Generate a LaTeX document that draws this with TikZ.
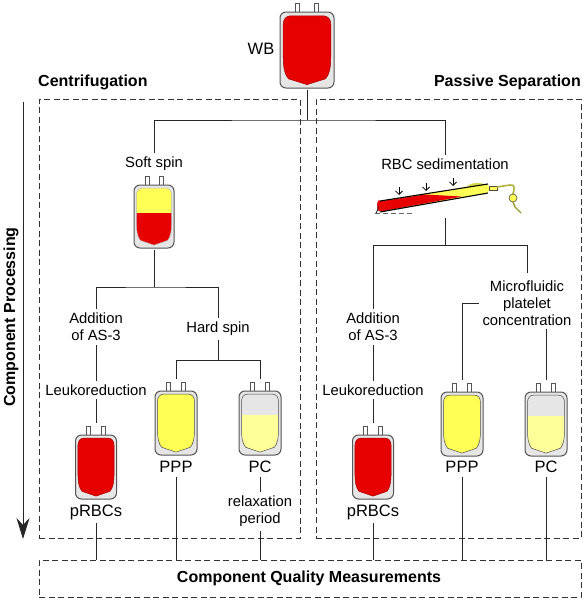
\documentclass[tikz,border=0pt]{standalone}
\usepackage{fontspec}
\setmainfont{Liberation Sans}
\usetikzlibrary{arrows.meta}
\definecolor{bagred}{HTML}{E60000}
\definecolor{bagyel}{HTML}{FFFF55}
\definecolor{bagpale}{HTML}{FFFF99}
\definecolor{baggray}{HTML}{E6E6E6}
\definecolor{bagline}{HTML}{555555}
\tikzset{
  lbl/.style={font=\fontsize{14.8}{17}\selectfont,align=center,inner sep=0pt,outer sep=4pt},
  big/.style={font=\fontsize{16.5}{19}\selectfont,align=center,inner sep=0pt,outer sep=4pt},
  head/.style={font=\bfseries\fontsize{16}{18}\selectfont,inner sep=0pt},
  conn/.style={draw=black!85,line width=0.9pt},
  toport/.style={conn,shorten >=11pt},
  dbox/.style={draw=black!80,line width=0.9pt,dash pattern=on 6pt off 3.5pt},
  bagbody/.style={draw=bagline,line width=1pt,fill=baggray,rounded corners=6pt,inner sep=0pt,outer sep=1.5pt},
  port/.style={draw=bagline,line width=0.9pt,fill=white}
}
% name, x1,y1,x2,y2, top colour, split percent, bottom colour, outline
\newcommand{\bagshape}[9]{%
  \pgfmathsetmacro{\bw}{#4-#2}\pgfmathsetmacro{\bh}{#5-#3}%
  \pgfmathsetmacro{\bcx}{(#2+#4)/2}\pgfmathsetmacro{\bcy}{(#3+#5)/2}%
  \pgfmathsetmacro{\pa}{\bcx-\bw*0.175}\pgfmathsetmacro{\pb}{\bcx+\bw*0.175}%
  \pgfmathsetmacro{\pt}{#3-9}%
  \draw[port] (\pa-2,#3) rectangle (\pa+2,\pt);
  \draw[port] (\pb-2,#3) rectangle (\pb+2,\pt);
  \node[bagbody,minimum width=\bw pt,minimum height=\bh pt] (#1) at (\bcx,\bcy) {};
  \begin{scope}[shift={(#2,#3)},x=\bw/100*1pt,y=-\bh/100*1pt]
    \def\bagpath{(6,16) .. controls (6,9) and (12,5) .. (20,5) -- (80,5) .. controls (88,5) and (94,9) .. (94,16) -- (94,60) .. controls (94,74) and (91,83) .. (84,88) -- (50,95.5) -- (16,88) .. controls (9,83) and (6,74) .. (6,60) -- cycle}
    \begin{scope}
      \clip \bagpath;
      \fill[#8] (0,#7) rectangle (100,100);
      \fill[#6] (0,0) rectangle (100,#7);
    \end{scope}
    \draw[#9,line width=0.5pt] \bagpath;
  \end{scope}}
\begin{document}
\begin{tikzpicture}[x=1pt,y=-1pt]
\useasboundingbox (0,0) rectangle (584,600);
\fill[white] (0,0) rectangle (584,600);

% dashed regions
\node[dbox,minimum width=261pt,minimum height=439pt,inner sep=0pt] (leftbox) at (169.5,318.5) {};
\node[dbox,minimum width=265pt,minimum height=439pt,inner sep=0pt] (rightbox) at (448.5,318.5) {};
\node[dbox,minimum width=542pt,minimum height=37pt,inner sep=0pt] (qualbox) at (310,578.5) {};

% headings
\node[head,anchor=west] (hcen) at (38,82) {Centrifugation};
\node[head,anchor=east] (hpas) at (581,82) {Passive Separation};
\node[head,rotate=90] (hproc) at (11,317) {Component Processing};
\node[head] (hqual) at (309,578) {Component Quality Measurements};

% bags
\bagshape{wb}{280}{12}{334}{88}{bagred}{50}{bagred}{bagred!70!black}
\bagshape{soft}{134}{185}{174}{248}{bagyel}{45}{bagred}{bagline!40}
\bagshape{lppp}{155}{391}{197}{455}{bagyel}{0}{bagyel}{black!70}
\bagshape{lpc}{239}{391}{281}{455}{baggray}{37}{bagpale}{black!70}
\bagshape{lrbc}{75.5}{435}{116.5}{499}{bagred}{50}{bagred}{bagred!70!black}
\bagshape{rppp}{441}{392}{483}{456}{bagyel}{0}{bagyel}{black!70}
\bagshape{rpc}{525}{392}{567}{456}{baggray}{37}{bagpale}{black!70}
\bagshape{rrbc}{352.5}{435}{393.5}{499}{bagred}{50}{bagred}{bagred!70!black}

% sedimentation bag
\begin{scope}
  \fill[bagyel,rounded corners=3pt] (379,201) -- (489,184) -- (489,193) -- (380,212) -- cycle;
  \fill[bagyel!85!black] (466,186.5) .. controls (472,182) and (480,182) .. (487,185) -- cycle;
  \fill[bagred,rounded corners=2pt] (379,201.5) -- (425,194.5) -- (462,196.5) -- (381,211.5) .. controls (377,211) and (377,203) .. cycle;
  \draw[black,line width=1.1pt] (380,201) -- (488,184);
  \draw[black,line width=1.1pt] (380,212) -- (488,193);
  \draw[black,line width=0.7pt] (376,213) .. controls (378,211) and (378,209) .. (378,206);
  \draw[black!60,dash pattern=on 5pt off 3pt,line width=0.7pt] (375,213) -- (414,213);
  \draw[black!70,line width=1pt,fill=bagyel] (489,186) -- (497,186) -- (497,190) -- (489,190) -- cycle;
  \draw[bagyel!70!black,line width=1.6pt] (497,187) -- (510,185) .. controls (516,184) and (514,190) .. (513,194);
  \draw[black!70,line width=0.6pt,fill=bagyel] (513,198) circle (4pt);
  \draw[bagyel!60!black,line width=1.4pt] (513,202) -- (515,207) -- (521,213);
  \foreach \ax/\ay in {399/187,426/183,453/178}
    \draw[-{Straight Barb[length=3.5pt,width=7pt]},black,line width=0.8pt] (\ax,\ay) -- (\ax,\ay+8);
\end{scope}

% arrow
\coordinate (atop) at (23,102);
\coordinate (abot) at (23,539);
\draw[-{Stealth[length=21pt,width=13pt,inset=7pt]},black!85,line width=1pt] (atop) -- (abot);

% labels
\node[big] (twb) at (261,49) {WB};
\node[lbl] (tsoft) at (154,164) {Soft spin};
\node[lbl] (tadd1) at (96,327) {Addition\\of AS-3};
\node[lbl] (thard) at (218,329) {Hard spin};
\node[lbl] (tleu1) at (96,390) {Leukoreduction};
\node[big] (tr1) at (96,512) {pRBCs};
\node[big] (tp1) at (176,467) {PPP};
\node[big] (tc1) at (260,467) {PC};
\node[lbl] (trel) at (260,511.5) {relaxation\\period};
\node[lbl] (tsed) at (445,164) {RBC sedimentation};
\node[lbl] (tadd2) at (373,327) {Addition\\of AS-3};
\node[lbl] (tleu2) at (373,390) {Leukoreduction};
\node[lbl] (tmic) at (527,303) {Microfluidic\\platelet\\concentration};
\node[big] (tr2) at (373,512) {pRBCs};
\node[big] (tp2) at (462,467) {PPP};
\node[big] (tc2) at (546,467) {PC};

% connectors
\coordinate (j0) at (307,120);
\coordinate (jL) at (154,120);
\coordinate (jR) at (445,120);
\coordinate (j1) at (154,287);
\coordinate (j2) at (218,360);
\coordinate (jsed) at (445,218);
\coordinate (j3) at (445,245);
\draw[conn] (wb) -- (j0);
\draw[conn] (tsoft) |- (j0) -| (tsed);
\draw[conn] (soft) -- (j1);
\draw[conn] (tadd1) |- (j1) -| (thard);
\draw[conn] (tadd1) -- (tleu1);
\draw[toport] (tleu1) -- (lrbc.north);
\draw[conn] (thard) -- (j2);
\draw[toport] (j2) -| (lppp.north);
\draw[toport] (j2) -| (lpc.north);
\draw[conn] (tr1) -- (tr1 |- qualbox.north);
\draw[conn] (tp1) -- (tp1 |- qualbox.north);
\draw[conn] (tc1) -- (trel);
\draw[conn] (trel) -- (trel |- qualbox.north);
\draw[conn] (jsed) -- (j3);
\draw[conn] (tadd2) |- (j3);
\draw[conn,shorten >=4pt] (j3) -| (tmic);
\draw[conn] (tadd2) -- (tleu2);
\draw[toport] (tleu2) -- (rrbc.north);
\draw[toport] (tmic.west) -| (rppp.north);
\draw[toport] (tmic.south -| rpc.north) -- (rpc.north);
\draw[conn] (tr2) -- (tr2 |- qualbox.north);
\draw[conn] (tp2) -- (tp2 |- qualbox.north);
\draw[conn] (tc2) -- (tc2 |- qualbox.north);
\end{tikzpicture}
\end{document}
